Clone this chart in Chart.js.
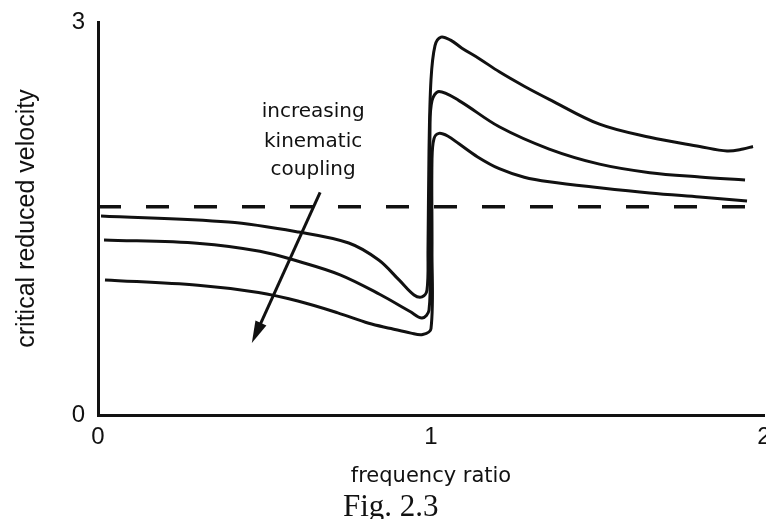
<!DOCTYPE html>
<html>
<head>
<meta charset="utf-8">
<script src="https://cdn.jsdelivr.net/npm/chart.js@4/dist/chart.umd.min.js"></script>
<style>
  html, body { margin: 0; padding: 0; background: #fff; overflow: hidden; }
  #wrap { width: 766px; height: 519px; overflow: hidden; }
</style>
</head>
<body>
<div id="wrap"><canvas id="grafico" width="790" height="519"></canvas></div>
<script>
// tick values
var xTicks = [0, 1, 2];
var yTicks = [0, 3];

// curve with the smallest coupling (top on the left)
var xA = [0.009, 0.392, 0.602, 0.753, 0.843, 0.904, 0.949, 0.973, 0.988, 0.991, 0.994, 1.000, 1.012, 1.030, 1.060, 1.093, 1.145, 1.205, 1.280, 1.355, 1.506, 1.657, 1.807, 1.889, 1.937, 1.967];
var yA = [1.519, 1.473, 1.397, 1.313, 1.183, 1.031, 0.916, 0.901, 0.954, 1.26, 2.02, 2.56, 2.82, 2.885, 2.86, 2.80, 2.72, 2.62, 2.51, 2.41, 2.22, 2.12, 2.05, 2.015, 2.03, 2.05];

// middle curve
var xB = [0.018, 0.306, 0.486, 0.606, 0.727, 0.847, 0.937, 0.973, 0.994, 0.997, 0.997, 1.003, 1.024, 1.084, 1.205, 1.355, 1.506, 1.657, 1.807, 1.943];
var yB = [1.336, 1.31, 1.25, 1.17, 1.07, 0.92, 0.79, 0.740, 0.80, 1.26, 2.18, 2.40, 2.47, 2.40, 2.20, 2.03, 1.915, 1.85, 1.817, 1.794];

// curve with the largest coupling (bottom on the left)
var xC = [0.021, 0.300, 0.482, 0.600, 0.720, 0.813, 0.880, 0.940, 0.975, 1.000, 1.003, 1.003, 1.009, 1.024, 1.050, 1.084, 1.140, 1.205, 1.280, 1.355, 1.506, 1.657, 1.807, 1.949];
var yC = [1.031, 0.99, 0.935, 0.87, 0.78, 0.70, 0.66, 0.625, 0.615, 0.66, 1.26, 1.95, 2.11, 2.15, 2.13, 2.07, 1.97, 1.88, 1.815, 1.78, 1.735, 1.695, 1.664, 1.634];

// dashed reference level
var xDash = [0, 1.952];
var yDash = [1.59, 1.59];

// annotation (data coordinates)
var arrowFrom = [0.667, 1.70];
var arrowTo = [0.462, 0.55];
var noteX = 0.646;
var noteY = [2.313, 2.084, 1.870];
var noteLines = ['increasing', 'kinematic', 'coupling'];

function pares(xs, ys) {
    return xs.map(function (x, i) { return { x: x, y: ys[i] }; });
}

var preto = '#111';

function curva(xs, ys) {
    return {
        data: pares(xs, ys),
        borderColor: preto,
        borderWidth: 3,
        pointRadius: 0,
        tension: 0.35,
        fill: false
    };
}

var tracejada = {
    data: pares(xDash, yDash),
    borderColor: preto,
    borderWidth: 3.5,
    borderDash: [23, 25],
    pointRadius: 0,
    tension: 0,
    fill: false
};

// arrow, note and figure caption
var anotacao = {
    id: 'anotacao',
    afterDatasetsDraw: function (chart) {
        var c = chart.ctx;
        var sx = chart.scales.x, sy = chart.scales.y;
        var x0 = sx.getPixelForValue(arrowFrom[0]), y0 = sy.getPixelForValue(arrowFrom[1]);
        var x1 = sx.getPixelForValue(arrowTo[0]), y1 = sy.getPixelForValue(arrowTo[1]);
        var ang = Math.atan2(y1 - y0, x1 - x0);
        var len = 22, half = 6;
        c.save();
        c.strokeStyle = preto;
        c.fillStyle = preto;
        c.lineWidth = 3;
        c.beginPath();
        c.moveTo(x0, y0);
        c.lineTo(x1 - Math.cos(ang) * len * 0.8, y1 - Math.sin(ang) * len * 0.8);
        c.stroke();
        var bx = x1 - Math.cos(ang) * len, by = y1 - Math.sin(ang) * len;
        c.beginPath();
        c.moveTo(x1, y1);
        c.lineTo(bx + Math.sin(ang) * half, by - Math.cos(ang) * half);
        c.lineTo(bx - Math.sin(ang) * half, by + Math.cos(ang) * half);
        c.closePath();
        c.fill();

        c.font = '20px "DejaVu Sans"';
        c.textAlign = 'center';
        c.textBaseline = 'middle';
        var tx = sx.getPixelForValue(noteX);
        noteLines.forEach(function (t, i) {
            c.fillText(t, tx, sy.getPixelForValue(noteY[i]));
        });

        c.font = '31px "Liberation Serif"';
        c.textAlign = 'left';
        c.textBaseline = 'alphabetic';
        c.fillText('Fig. 2.3', chart.chartArea.left + 245, 516);
        c.restore();
    }
};

var ctx = document.getElementById('grafico').getContext('2d');
var grafico = new Chart(ctx, {
    type: 'line',
    data: {
        datasets: [curva(xA, yA), curva(xB, yB), curva(xC, yC), tracejada]
    },
    options: {
        responsive: false,
        animation: false,
        devicePixelRatio: 1,
        layout: { padding: { left: 0, right: 26, top: 22, bottom: 0 } },
        plugins: {
            legend: { display: false },
            tooltip: { enabled: false }
        },
        scales: {
            x: {
                type: 'linear',
                min: 0,
                max: 2,
                afterBuildTicks: function (s) { s.ticks = xTicks.map(function (v) { return { value: v }; }); },
                afterFit: function (s) { s.height = 104; },
                grid: { display: false, drawTicks: false },
                border: { display: true, color: preto, width: 3 },
                ticks: {
                    color: preto,
                    padding: 8,
                    maxRotation: 0,
                    font: { family: '"Liberation Sans"', size: 24 }
                },
                title: {
                    display: true,
                    text: 'frequency ratio',
                    color: preto,
                    padding: { top: 0, bottom: 30 },
                    font: { family: '"DejaVu Sans"', size: 21 }
                }
            },
            y: {
                type: 'linear',
                min: 0,
                max: 3,
                afterBuildTicks: function (s) { s.ticks = yTicks.map(function (v) { return { value: v }; }); },
                afterFit: function (s) {
                    s.width = 98;
                    s.paddingTop = 0;
                    s.paddingBottom = 0;
                },
                grid: { display: false, drawTicks: false },
                border: { display: true, color: preto, width: 3 },
                ticks: {
                    color: preto,
                    padding: 13,
                    font: { family: '"Liberation Sans"', size: 24 }
                },
                title: {
                    display: true,
                    text: 'critical reduced velocity',
                    color: preto,
                    padding: { top: 12, bottom: 0 },
                    font: { family: '"Liberation Sans"', size: 25 }
                }
            }
        }
    },
    plugins: [anotacao]
});
</script>
</body>
</html>
